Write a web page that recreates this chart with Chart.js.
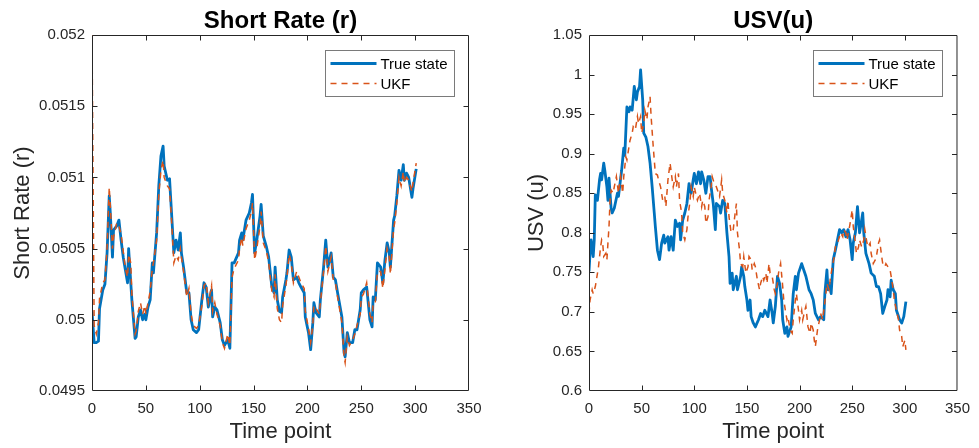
<!DOCTYPE html>
<html>
<head>
    <script src="https://cdn.jsdelivr.net/npm/chart.js"></script>
    <style>
        body {
            margin: 0;
            background-color: white;
        }
        .wrap {
            position: relative;
            width: 979px;
            height: 448px;
        }
        canvas {
            position: absolute;
            top: 0;
        }
        #rateChart { left: 0; }
        #usvChart { left: 480px; }
    </style>
</head>
<body>
    <div class="wrap">
        <canvas id="rateChart" width="495" height="448"></canvas>
        <canvas id="usvChart" width="499" height="448"></canvas>
    </div>

    <script>
        // Short rate (r) - time points and values
        const timeR = [0,2,4,6,7,10,12,14,16,17,
            19,20,23,25,27,29,31,33,34,36,
            37,40,41,43,45,47,49,50,52,54,
            56,57,60,62,64,66,67,70,72,74,
            76,78,80,82,83,85,88,90,92,94,
            97,99,102,104,106,108,111,112,114,116,
            119,121,123,126,128,130,132,136,137,139,
            140,143,146,148,149,151,153,156,157,159,
            162,164,167,169,170,172,174,176,177,180,
            181,183,185,187,190,192,194,197,198,201,
            203,205,206,208,211,212,215,217,219,222,
            224,226,228,232,234,235,237,239,242,244,
            246,249,250,252,255,258,260,261,263,265,
            268,270,272,274,276,277,280,281,283,285,
            287,289,290,292,294,297,298,301];

        const trueR = [0.05006,0.04984,0.04984,0.04985,0.05008,0.05021,0.05025,0.05047,0.05087,0.05075,
            0.05044,0.05063,0.05066,0.05070,0.05056,0.05044,0.05035,0.05026,0.05050,0.05026,
            0.05014,0.04987,0.04988,0.05002,0.05007,0.05000,0.05004,0.05000,0.05009,0.05014,
            0.05040,0.05033,0.05061,0.05094,0.05115,0.05122,0.05108,0.05098,0.05099,0.05073,
            0.05047,0.05056,0.05049,0.05061,0.05047,0.05037,0.05019,0.05019,0.05000,0.04993,
            0.04991,0.04993,0.05014,0.05026,0.05023,0.05009,0.05021,0.05002,0.05009,0.05007,
            0.04998,0.04986,0.04982,0.04986,0.04980,0.05040,0.05040,0.05047,0.05056,0.05061,
            0.05056,0.05070,0.05075,0.05082,0.05088,0.05047,0.05056,0.05073,0.05081,0.05059,
            0.05051,0.05044,0.05023,0.05019,0.05037,0.05014,0.05006,0.05005,0.05016,0.05028,
            0.05033,0.05049,0.05044,0.05028,0.05030,0.05026,0.05023,0.05019,0.05002,0.04991,
            0.04979,0.04998,0.05012,0.05005,0.05002,0.05014,0.05037,0.05056,0.05037,0.05047,
            0.05030,0.05028,0.05019,0.05002,0.04977,0.04974,0.04991,0.04984,0.04984,0.04993,
            0.04993,0.05007,0.05019,0.05021,0.05023,0.05000,0.04995,0.05016,0.05014,0.05040,
            0.05037,0.05026,0.05042,0.05054,0.05047,0.05037,0.05070,0.05073,0.05087,0.05105,
            0.05098,0.05109,0.05098,0.05103,0.05100,0.05086,0.05092,0.05106];

        const ukfR = [0.05200,0.04996,0.04990,0.04998,0.05015,0.05026,0.05028,0.05050,0.05093,0.05080,
            0.05050,0.05058,0.05068,0.05066,0.05060,0.05048,0.05036,0.05030,0.05046,0.05040,
            0.05018,0.04990,0.04992,0.05006,0.05012,0.05004,0.05010,0.05004,0.05012,0.05020,
            0.05036,0.05040,0.05056,0.05088,0.05105,0.05112,0.05100,0.05094,0.05092,0.05068,
            0.05040,0.05045,0.05042,0.05050,0.05044,0.05034,0.05016,0.05022,0.05004,0.04996,
            0.04994,0.04996,0.05010,0.05024,0.05026,0.05012,0.05024,0.05006,0.05012,0.05004,
            0.04996,0.04984,0.04980,0.04990,0.04982,0.05030,0.05036,0.05042,0.05050,0.05058,
            0.05052,0.05064,0.05070,0.05076,0.05082,0.05042,0.05050,0.05066,0.05076,0.05054,
            0.05048,0.05040,0.05020,0.05016,0.05032,0.05008,0.05000,0.04998,0.05010,0.05024,
            0.05030,0.05046,0.05040,0.05026,0.05034,0.05030,0.05026,0.05022,0.05006,0.04994,
            0.04984,0.04996,0.05010,0.05008,0.05004,0.05012,0.05034,0.05052,0.05034,0.05044,
            0.05028,0.05026,0.05016,0.04998,0.04974,0.04970,0.04988,0.04982,0.04986,0.04990,
            0.04996,0.05004,0.05016,0.05018,0.05026,0.05004,0.04998,0.05012,0.05012,0.05034,
            0.05034,0.05022,0.05036,0.05050,0.05044,0.05032,0.05064,0.05068,0.05082,0.05100,
            0.05094,0.05104,0.05096,0.05100,0.05098,0.05090,0.05096,0.05110];

        // USV (u) - true state
        const timeTrueU = [0,1,2,4,5,6,8,10,11,12,
            14,15,17,18,19,21,22,24,27,28,
            31,33,34,36,38,39,41,43,45,46,
            48,49,51,52,54,56,58,60,62,63,
            65,67,69,71,72,75,76,78,80,82,
            84,86,87,89,91,93,95,97,99,100,
            102,104,106,107,109,111,113,115,116,118,
            120,121,124,125,127,129,131,133,134,136,
            137,140,141,144,145,147,148,150,151,153,
            154,156,158,161,163,165,167,170,172,174,
            175,177,179,181,183,184,186,188,189,192,
            194,196,197,199,202,204,206,209,211,213,
            215,218,220,223,224,226,227,229,230,232,
            234,236,238,240,242,244,246,248,250,251,
            253,255,257,258,260,261,263,266,268,271,
            273,275,277,279,281,283,284,286,287,289,
            291,292,295,297,299,301];

        const trueU = [0.751,0.774,0.791,0.770,0.791,0.848,0.841,0.867,0.875,0.867,
            0.888,0.879,0.858,0.841,0.869,0.831,0.825,0.831,0.850,0.846,
            0.879,0.907,0.898,0.959,0.953,0.959,0.955,0.985,0.968,0.978,
            0.985,1.006,0.968,0.926,0.921,0.909,0.888,0.858,0.825,0.808,
            0.778,0.766,0.787,0.797,0.787,0.795,0.778,0.795,0.778,0.816,
            0.808,0.812,0.791,0.816,0.825,0.837,0.862,0.850,0.867,0.875,
            0.862,0.877,0.862,0.877,0.867,0.850,0.871,0.871,0.858,0.837,
            0.804,0.837,0.833,0.825,0.841,0.837,0.800,0.770,0.736,0.749,
            0.728,0.745,0.728,0.745,0.757,0.745,0.732,0.715,0.702,0.715,
            0.694,0.686,0.681,0.690,0.698,0.694,0.702,0.694,0.715,0.698,
            0.686,0.707,0.745,0.736,0.715,0.690,0.673,0.681,0.669,0.681,
            0.723,0.745,0.728,0.749,0.761,0.753,0.745,0.728,0.723,0.715,
            0.698,0.690,0.694,0.690,0.723,0.753,0.728,0.736,0.723,0.766,
            0.778,0.791,0.804,0.800,0.804,0.795,0.804,0.791,0.766,0.787,
            0.800,0.833,0.800,0.808,0.825,0.800,0.774,0.761,0.749,0.745,
            0.732,0.732,0.723,0.698,0.707,0.715,0.728,0.719,0.740,0.728,
            0.723,0.702,0.690,0.686,0.694,0.713];

        // USV (u) - UKF estimate
        const timeUkfU = [0,1,3,4,6,7,9,11,12,13,
            14,16,17,19,20,21,23,24,26,28,
            30,32,33,35,36,38,39,41,42,44,
            46,47,49,50,52,53,55,56,58,59,
            61,63,65,66,68,70,72,73,75,77,
            79,80,82,83,85,86,88,89,91,93,
            94,96,97,99,100,102,103,105,107,108,
            110,111,113,114,116,117,119,121,124,126,
            127,129,131,132,133,135,137,138,140,141,
            143,144,146,147,149,151,152,154,155,157,
            158,160,162,163,165,166,168,169,171,172,
            174,176,177,179,180,182,184,185,187,188,
            189,191,193,194,196,197,199,200,202,203,
            205,206,208,210,211,213,214,215,217,219,
            220,222,223,225,226,228,229,231,233,234,
            236,237,239,241,242,244,245,247,248,250,
            251,253,254,256,257,259,261,262,264,265,
            267,268,270,272,273,275,276,278,279,281,
            282,284,286,287,289,290,292,294,295,297,
            298,300,301];

        const ukfU = [0.698,0.715,0.728,0.723,0.732,0.740,0.757,0.782,0.791,0.787,
            0.770,0.774,0.766,0.808,0.841,0.854,0.850,0.858,0.871,0.850,
            0.871,0.850,0.871,0.896,0.892,0.909,0.917,0.926,0.934,0.930,
            0.947,0.938,0.947,0.926,0.938,0.955,0.943,0.959,0.972,0.947,
            0.909,0.875,0.873,0.867,0.858,0.841,0.846,0.833,0.867,0.888,
            0.867,0.858,0.871,0.858,0.875,0.841,0.825,0.800,0.791,0.804,
            0.820,0.841,0.858,0.846,0.858,0.846,0.841,0.850,0.833,0.841,
            0.833,0.812,0.820,0.841,0.858,0.871,0.862,0.858,0.846,0.867,
            0.850,0.841,0.825,0.841,0.820,0.800,0.804,0.816,0.837,0.800,
            0.778,0.761,0.757,0.770,0.749,0.757,0.770,0.766,0.753,0.761,
            0.757,0.740,0.728,0.736,0.745,0.740,0.749,0.736,0.761,0.749,
            0.745,0.728,0.723,0.736,0.749,0.761,0.732,0.715,0.698,0.690,
            0.694,0.677,0.673,0.690,0.715,0.723,0.702,0.690,0.702,0.690,
            0.702,0.707,0.681,0.673,0.686,0.677,0.664,0.656,0.677,0.690,
            0.698,0.690,0.702,0.723,0.736,0.728,0.740,0.757,0.770,0.782,
            0.787,0.791,0.800,0.795,0.804,0.800,0.791,0.804,0.812,0.829,
            0.808,0.787,0.774,0.782,0.791,0.782,0.791,0.804,0.787,0.782,
            0.787,0.774,0.761,0.766,0.770,0.787,0.791,0.770,0.761,0.757,
            0.761,0.757,0.753,0.745,0.728,0.715,0.702,0.690,0.677,0.669,
            0.656,0.664,0.652];

        const BLUE = "#0072BD";
        const ORANGE = "#D95319";
        const AXIS = "#262626";
        const FONT = "'Liberation Sans', Arial, sans-serif";

        Chart.defaults.font.family = FONT;
        Chart.defaults.color = AXIS;

        function toPoints(xs, ys) {
            return xs.map((x, i) => ({ x: x, y: ys[i] }));
        }

        // matlab-like box, inner ticks, title and legend
        const matlabBox = {
            id: "matlabBox",
            afterDatasetsDraw(chart, args, opts) {
                const ctx = chart.ctx;
                const a = chart.chartArea;
                const sx = chart.scales.x, sy = chart.scales.y;
                const L = a.left + 0.5, R = a.right - 0.5, T = a.top + 0.5, B = a.bottom - 0.5;
                ctx.save();

                ctx.strokeStyle = AXIS;
                ctx.lineWidth = 1;
                ctx.setLineDash([]);
                ctx.beginPath();
                ctx.rect(L, T, R - L, B - T);
                sx.ticks.forEach(t => {
                    const px = Math.round(sx.getPixelForValue(t.value)) + 0.5;
                    if (px <= L + 1 || px >= R - 1) return;
                    ctx.moveTo(px, B); ctx.lineTo(px, B - 5);
                    ctx.moveTo(px, T); ctx.lineTo(px, T + 5);
                });
                sy.ticks.forEach(t => {
                    const py = Math.round(sy.getPixelForValue(t.value)) + 0.5;
                    if (py <= T + 1 || py >= B - 1) return;
                    ctx.moveTo(L, py); ctx.lineTo(L + 5, py);
                    ctx.moveTo(R, py); ctx.lineTo(R - 5, py);
                });
                ctx.stroke();

                // title
                ctx.fillStyle = "#000";
                ctx.font = "bold 24px " + FONT;
                ctx.textAlign = "center";
                ctx.textBaseline = "alphabetic";
                ctx.fillText(opts.title, (a.left + a.right) / 2, 28);

                // legend box
                const w = 129, h = 46;
                const x0 = Math.round(a.right - 15 - w) + 0.5;
                const y0 = a.top + 15.5;
                ctx.fillStyle = "#fff";
                ctx.fillRect(x0, y0, w, h);
                ctx.strokeStyle = "#7a7a7a";
                ctx.strokeRect(x0, y0, w, h);
                ctx.font = "15px " + FONT;
                ctx.textAlign = "left";
                ctx.textBaseline = "middle";
                chart.data.datasets.forEach((ds, i) => {
                    const yy = y0 + 13 + i * 20;
                    ctx.strokeStyle = ds.borderColor;
                    ctx.lineWidth = ds.borderWidth;
                    ctx.setLineDash(ds.borderDash || []);
                    ctx.beginPath();
                    ctx.moveTo(x0 + 5, yy);
                    ctx.lineTo(x0 + 51, yy);
                    ctx.stroke();
                    ctx.fillStyle = "#000";
                    ctx.fillText(ds.label, x0 + 55, yy + 1);
                });

                ctx.restore();
            }
        };

        function makeChart(id, opt) {
            return new Chart(document.getElementById(id), {
                type: "line",
                data: {
                    datasets: [{
                        label: "True state",
                        data: opt.trueData,
                        borderColor: BLUE,
                        borderWidth: 2.8,
                        pointRadius: 0,
                        borderJoinStyle: "round",
                        order: 2
                    }, {
                        label: "UKF",
                        data: opt.ukfData,
                        borderColor: ORANGE,
                        borderWidth: 1.5,
                        borderDash: [6, 5],
                        pointRadius: 0,
                        order: 1
                    }]
                },
                options: {
                    responsive: false,
                    animation: false,
                    devicePixelRatio: 1,
                    layout: { padding: { top: 35, right: opt.padRight, bottom: 0, left: 0 } },
                    plugins: {
                        legend: { display: false },
                        tooltip: { enabled: false },
                        matlabBox: { title: opt.title }
                    },
                    scales: {
                        x: {
                            type: "linear",
                            min: 0,
                            max: 350,
                            ticks: { stepSize: 50, font: { size: 15 }, color: AXIS, padding: 9, maxRotation: 0 },
                            grid: { display: false, drawTicks: false },
                            border: { display: false },
                            title: { display: true, text: "Time point", color: AXIS, font: { size: 22 }, padding: { top: 0, bottom: 3 } },
                            afterFit(s) { s.height = 57; }
                        },
                        y: {
                            min: opt.yMin,
                            max: opt.yMax,
                            ticks: {
                                stepSize: opt.yStep,
                                font: { size: 15 },
                                color: AXIS,
                                padding: 7,
                                callback: v => Number(v.toFixed(opt.digits)).toString()
                            },
                            grid: { display: false, drawTicks: false },
                            border: { display: false },
                            title: { display: true, text: opt.yTitle, color: AXIS, font: { size: 22 }, padding: { top: opt.yTitlePad, bottom: 0 } },
                            afterFit(s) { s.width = opt.yWidth; }
                        }
                    }
                },
                plugins: [matlabBox]
            });
        }

        makeChart("rateChart", {
            title: "Short Rate (r)",
            yTitle: "Short Rate (r)",
            trueData: toPoints(timeR, trueR),
            ukfData: toPoints(timeR, ukfR),
            yMin: 0.0495, yMax: 0.052, yStep: 0.0005, digits: 4,
            yWidth: 92, yTitlePad: 10, padRight: 26
        });

        makeChart("usvChart", {
            title: "USV(u)",
            yTitle: "USV (u)",
            trueData: toPoints(timeTrueU, trueU),
            ukfData: toPoints(timeUkfU, ukfU),
            yMin: 0.6, yMax: 1.05, yStep: 0.05, digits: 2,
            yWidth: 109, yTitlePad: 44, padRight: 13
        });
    </script>
</body>
</html>
